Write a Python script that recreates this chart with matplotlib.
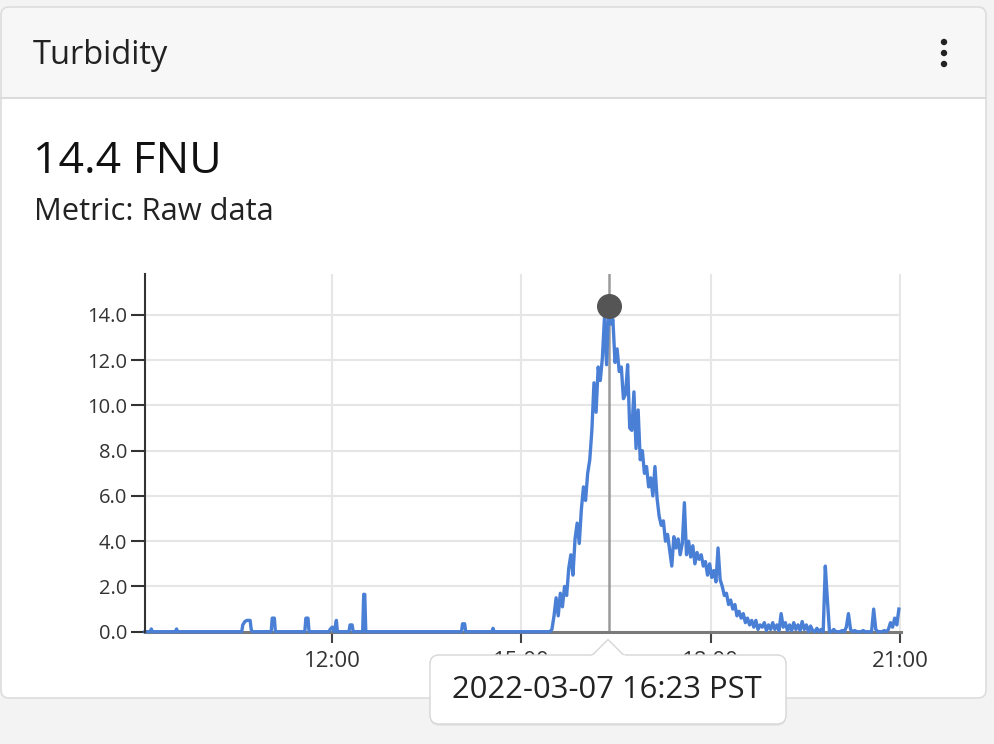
import matplotlib
matplotlib.use("Agg")
import matplotlib.pyplot as plt
import matplotlib.dates as mdates
from matplotlib.patches import FancyBboxPatch, Rectangle, Circle, Polygon
from matplotlib.lines import Line2D
from matplotlib.transforms import IdentityTransform
import numpy as np
import pandas as pd

plt.rcParams['font.family'] = ['Open Sans', 'DejaVu Sans']

# Card texts
title = "Turbidity"
current_value = "14.4 FNU"
metric_label = "Metric: Raw data"
cursor_label = "2022-03-07 16:23 PST"
day = "2022-03-07"

# Quiet morning readings (time, FNU)
quiet_times = ["09:02", "09:07", "09:08", "09:09", "09:31", "09:32", "09:33",
               "10:34", "10:35", "10:37", "10:39", "10:42", "10:43", "10:44",
               "11:02", "11:03", "11:05", "11:06", "11:34", "11:35", "11:37", "11:38",
               "11:57", "11:58", "12:00", "12:02", "12:04", "12:05",
               "12:16", "12:17", "12:19", "12:20", "12:29", "12:30", "12:31", "12:32",
               "14:03", "14:04", "14:06", "14:07", "14:32", "14:33", "14:34"]
quiet_values = [0, 0, 0.12, 0, 0, 0.12, 0,
                0, 0.3, 0.45, 0.5, 0.5, 0.1, 0,
                0, 0.6, 0.6, 0, 0, 0.6, 0.6, 0,
                0, 0.1, 0.2, 0, 0.5, 0,
                0, 0.3, 0.3, 0, 0, 1.65, 1.65, 0,
                0, 0.35, 0.35, 0, 0, 0.15, 0]

# Turbidity event, readings every 2 minutes from 15:27
event_start = "15:27"
event_values = [
    0.0, 0.1, 0.7, 1.5, 0.7, 1.7, 1.1, 2.0, 1.6, 2.8,
    3.4, 2.5, 4.1, 4.8, 3.9, 5.4, 6.4, 5.8, 7.0, 7.6,
    8.9, 11.0, 9.7, 11.7, 11.1, 12.1, 13.9, 11.8, 14.4, 13.6,
    13.8, 11.9, 12.5, 11.5, 11.7, 10.3, 10.5, 11.8, 9.0, 8.9,
    10.6, 8.1, 9.8, 7.6, 8.0, 7.0, 7.3, 6.4, 6.8, 6.0,
    7.3, 5.9, 5.1, 4.7, 4.9, 4.0, 4.3, 3.6, 2.9, 4.2,
    3.7, 4.1, 3.4, 3.9, 5.7, 3.4, 4.0, 3.3, 3.8, 3.0,
    3.5, 3.2, 3.4, 2.9, 3.1, 2.5, 3.0, 2.4, 2.7, 2.2,
    3.7, 2.3, 2.0, 1.6, 1.7, 1.2, 1.4, 1.0, 1.2, 0.7,
    0.9, 0.6, 0.8, 0.4, 0.6, 0.3, 0.5, 0.2, 0.5, 0.1,
    0.3, 0.2, 0.4, 0.05, 0.3, 0.1, 0.4, 0.1, 0.3, 0.05,
    0.8, 0.2, 0.4, 0.05, 0.3, 0.05, 0.4, 0.1, 0.3, 0.05,
    0.45, 0.1, 0.3, 0.0, 0.25, 0.05, 0.0, 0.15, 0.0, 0.1,
    0.0, 2.9, 1.4, 0.0, 0.0, 0.1, 0.0, 0.0, 0.0, 0.05,
    0.0, 0.2, 0.8, 0.1, 0.0, 0.05, 0.0, 0.0, 0.0, 0.05,
    0.0, 0.0, 0.0, 0.0, 1.0, 0.1, 0.0, 0.0, 0.0, 0.05,
    0.0, 0.1, 0.4, 0.2, 0.6, 0.3, 1.0]

cursor_time = "16:23"
cursor_value = 14.4
y_ticks = [0, 2, 4, 6, 8, 10, 12, 14]
x_tick_hours = [12, 15, 18, 21]

W, H = 994, 744


def px(x, y):
    # screen pixel (top-left origin) -> display coords
    return (x, H - y)


quiet_t = pd.to_datetime([day + " " + t for t in quiet_times])
event_t = pd.date_range(day + " " + event_start, periods=len(event_values), freq="2min")
times = quiet_t.append(event_t)
values = np.array(quiet_values + event_values)

fig = plt.figure(figsize=(W / 100, H / 100), dpi=100)
fig.patch.set_facecolor("#f3f3f3")

ident = IdentityTransform()

# card
card = FancyBboxPatch(px(1, 698), 985, 691, boxstyle="round,pad=0,rounding_size=8",
                      transform=ident, facecolor="white", edgecolor="none", zorder=-5)
fig.add_artist(card)
header = FancyBboxPatch(px(1, 120), 985, 113, boxstyle="round,pad=0,rounding_size=8",
                        transform=ident, facecolor="#f7f7f7", edgecolor="none", zorder=-4)
fig.add_artist(header)
fig.add_artist(Rectangle(px(1, 130), 985, 32, transform=ident, facecolor="white",
                         edgecolor="none", zorder=-3))
fig.add_artist(Line2D([1, 986], [H - 98, H - 98], transform=ident, color="#dcdcdc",
                      lw=1.5, zorder=-2))
border = FancyBboxPatch(px(1, 698), 985, 691, boxstyle="round,pad=0,rounding_size=8",
                        transform=ident, facecolor="none", edgecolor="#dddddd", lw=1.2, zorder=-1)
fig.add_artist(border)

# kebab menu
for yy in [42, 53, 64]:
    fig.add_artist(Circle(px(944, yy), 3.2, transform=ident, facecolor="#222222",
                          edgecolor="none", zorder=1))

fig.text(33 / W, 1 - 64 / H, title, fontsize=23.5, color="#222222", va="baseline")
fig.text(33 / W, 1 - 173 / H, current_value, fontsize=32, color="#111111", va="baseline")
fig.text(34 / W, 1 - 220 / H, metric_label, fontsize=22.2, color="#222222", va="baseline")

# chart
left, right, top, bottom = 145, 901, 274, 631.7
ax = fig.add_axes([left / W, 1 - bottom / H, (right - left) / W, (bottom - top) / H])
ax.set_facecolor("none")

ax.plot(times, values, color="#4a7fd6", lw=2.4, zorder=3, clip_on=False)

ax.set_xlim(pd.Timestamp(day + " 09:02"), pd.Timestamp(day + " 21:01"))
ax.set_ylim(0, 15.81)

ax.set_yticks(y_ticks)
ax.set_yticklabels([f"{v:.1f}" for v in y_ticks])
ax.xaxis.set_major_locator(mdates.HourLocator(byhour=x_tick_hours))
ax.xaxis.set_major_formatter(mdates.DateFormatter("%H:%M"))

for v in y_ticks[1:]:
    ax.axhline(v, color="#e6e6e6", lw=1.5, zorder=1)
for h in x_tick_hours:
    ax.axvline(pd.Timestamp(f"{day} {h:02d}:00"), color="#e6e6e6", lw=1.5, zorder=1)

for s in ["top", "right"]:
    ax.spines[s].set_visible(False)
ax.spines["left"].set_color("#333333")
ax.spines["left"].set_linewidth(1.5)
ax.spines["bottom"].set_color("#7a7a7a")
ax.spines["bottom"].set_linewidth(2.2)
ax.spines["left"].set_zorder(4)

ax.tick_params(axis="y", length=10, width=1.5, color="#333333", labelsize=14.5,
               labelcolor="#333333", pad=3)
ax.tick_params(axis="x", length=8, width=1.5, color="#444444", labelsize=16,
               labelcolor="#333333", pad=6)

# cursor
ct = pd.Timestamp(day + " " + cursor_time)
ax.axvline(ct, color="#9a9a9a", lw=1.8, zorder=2)
ax.plot([ct], [cursor_value], "o", color="#555555", markersize=17, zorder=5, clip_on=False)

# tooltip
shadow = FancyBboxPatch(px(430, 726), 356, 69, boxstyle="round,pad=0,rounding_size=9",
                        transform=ident, facecolor="#000000", alpha=0.05, edgecolor="none", zorder=8)
fig.add_artist(shadow)
tip = FancyBboxPatch(px(430, 724), 356, 69, boxstyle="round,pad=0,rounding_size=9",
                     transform=ident, facecolor="white", edgecolor="#d6d6d6", lw=1.0, zorder=9)
fig.add_artist(tip)
pointer = Polygon([px(592, 655.5), px(608, 639.5), px(624, 655.5)], closed=False,
                  transform=ident, facecolor="white", edgecolor="#d6d6d6", lw=1.0, zorder=10)
fig.add_artist(pointer)
fig.add_artist(Line2D([593, 623], [H - 655.5, H - 655.5], transform=ident, color="white",
                      lw=2, zorder=11))
fig.text(607 / W, 1 - 690 / H, cursor_label, fontsize=22.3, color="#222222",
         ha="center", va="center", zorder=12)

fig.savefig("out.png", dpi=100, facecolor=fig.get_facecolor())
